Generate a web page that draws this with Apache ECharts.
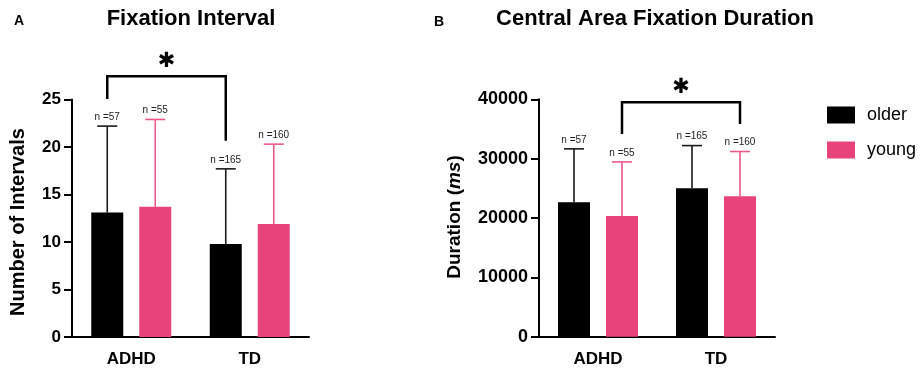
<!DOCTYPE html>
<html>
<head>
<meta charset="utf-8">
<script src="https://cdn.jsdelivr.net/npm/echarts@6/dist/echarts.min.js"></script>
<style>
  html, body { margin: 0; padding: 0; background: #fff; }
  #chart { width: 922px; height: 374px; }
</style>
</head>
<body>
<div id="chart"></div>
<script>
// --- data ---
const categories = ['ADHD', 'TD'];
const groups = ['older', 'young'];

// panel A: fixation interval (mean, mean + SD, n)
const intervalOlder = [13.1, 9.8];
const intervalYoung = [13.7, 11.9];
const intervalOlderErr = [22.2, 17.7];
const intervalYoungErr = [22.9, 20.3];
const intervalOlderN = [57, 165];
const intervalYoungN = [55, 160];

// panel B: central area fixation duration (ms)
const durationOlder = [22650, 25000];
const durationYoung = [20350, 23650];
const durationOlderErr = [31650, 32200];
const durationYoungErr = [29450, 31200];
const durationOlderN = [57, 165];
const durationYoungN = [55, 160];

// significance brackets: [leftCat, leftSide, rightCat, rightSide, leftFoot, top, rightFoot]
const bracketA = [0, -1, 1, -1, 25.05, 27.45, 20.65];
const bracketB = [0, 1, 1, 1, 34150, 39500, 35850];

const yTicksA = { min: 0, max: 25, interval: 5 };
const yTicksB = { min: 0, max: 40000, interval: 10000 };

// --- style ---
const BLACK = '#000000';
const PINK = '#E8437A';
const PINK_ERR = '#EC5A8B';
const FONT = "'Liberation Sans', Arial, Helvetica, sans-serif";
const BAR_W = 32;
const BAR_GAP = 16;
const OFFSET = (BAR_W + BAR_GAP) / 2;

function xAxis(gridIndex) {
  return {
    type: 'category', gridIndex, data: categories,
    axisLine: { lineStyle: { color: BLACK, width: 2 } },
    axisTick: { alignWithLabel: true, length: 8, lineStyle: { color: BLACK, width: 2 } },
    axisLabel: { color: BLACK, fontFamily: FONT, fontWeight: 'bold', fontSize: 17, margin: 14 },
  };
}

function yAxis(gridIndex, ticks, fontSize) {
  return {
    type: 'value', gridIndex, ...ticks,
    splitLine: { show: false },
    axisLine: { show: true, lineStyle: { color: BLACK, width: 2 } },
    axisTick: { show: true, length: 8, lineStyle: { color: BLACK, width: 2 } },
    axisLabel: { color: BLACK, fontFamily: FONT, fontWeight: 'bold', fontSize, margin: 11,
                 formatter: (v) => String(v) },
  };
}

function bars(name, idx, values, color) {
  return {
    name, type: 'bar', xAxisIndex: idx, yAxisIndex: idx, data: values,
    barWidth: BAR_W, barGap: (BAR_GAP / BAR_W * 100) + '%',
    itemStyle: { color }, emphasis: { disabled: true },
  };
}

// upper-only error bar with cap and n label
function errors(idx, side, means, tops, ns, color) {
  return {
    type: 'custom', xAxisIndex: idx, yAxisIndex: idx, clip: false, z: 3,
    data: means.map((m, i) => [i, m, tops[i], ns[i]]),
    renderItem(params, api) {
      const base = api.coord([api.value(0), api.value(1)]);
      const top = api.coord([api.value(0), api.value(2)]);
      const x = base[0] + side * OFFSET;
      const ls = { stroke: color, lineWidth: 1.6 };
      return {
        type: 'group',
        children: [
          { type: 'line', shape: { x1: x, y1: base[1], x2: x, y2: top[1] }, style: ls },
          { type: 'line', shape: { x1: x - 10, y1: top[1], x2: x + 10, y2: top[1] }, style: ls },
          { type: 'text', x: x, y: top[1] - 4,
            style: { text: 'n =' + api.value(3), fill: '#222', font: '10px ' + FONT,
                     textAlign: 'center', textVerticalAlign: 'bottom' } },
        ],
      };
    },
  };
}

function bracket(idx, b) {
  return {
    type: 'custom', xAxisIndex: idx, yAxisIndex: idx, clip: false, z: 4,
    data: [b],
    renderItem(params, api) {
      const l = api.coord([api.value(0), api.value(4)]);
      const t = api.coord([api.value(0), api.value(5)]);
      const r = api.coord([api.value(2), api.value(6)]);
      const xl = l[0] + api.value(1) * OFFSET;
      const xr = r[0] + api.value(3) * OFFSET;
      return {
        type: 'group',
        children: [
          { type: 'polyline',
            shape: { points: [[xl, l[1]], [xl, t[1]], [xr, t[1]], [xr, r[1]]] },
            style: { stroke: BLACK, lineWidth: 2.5, fill: null } },
          { type: 'text', x: (xl + xr) / 2, y: t[1] - 15,
            style: { text: '\u2731', fill: BLACK, font: 'bold 21px DejaVu Sans',
                     textAlign: 'center', textVerticalAlign: 'middle' } },
        ],
      };
    },
  };
}

const chart = echarts.init(document.getElementById('chart'), null, { renderer: 'canvas' });

chart.setOption({
  animation: false,
  backgroundColor: '#fff',
  textStyle: { fontFamily: FONT },
  grid: [
    { left: 72, top: 99.5, width: 237, height: 237.5 },
    { left: 539, top: 99.3, width: 236, height: 237.4 },
  ],
  xAxis: [xAxis(0), xAxis(1)],
  yAxis: [yAxis(0, yTicksA, 17), yAxis(1, yTicksB, 18)],
  legend: {
    data: groups, orient: 'vertical', left: 827, top: 106,
    itemWidth: 28, itemHeight: 17, itemGap: 17, icon: 'rect',
    textStyle: { color: BLACK, fontFamily: FONT, fontSize: 18, padding: [0, 0, 0, 7] },
    selectedMode: false, padding: 0,
  },
  graphic: [
    { type: 'text', left: 14, top: 14, style: { text: 'A', font: 'bold 14px ' + FONT, fill: BLACK } },
    { type: 'text', left: 434, top: 15, style: { text: 'B', font: 'bold 14px ' + FONT, fill: BLACK } },
    { type: 'text', x: 191, y: 19, style: { text: 'Fixation Interval', font: 'bold 22px ' + FONT,
        fill: BLACK, textAlign: 'center', textVerticalAlign: 'middle' } },
    { type: 'text', x: 655, y: 19, style: { text: 'Central Area Fixation Duration', font: 'bold 22px ' + FONT,
        fill: BLACK, textAlign: 'center', textVerticalAlign: 'middle' } },
    { type: 'text', x: 18, y: 222, rotation: Math.PI / 2,
      style: { text: 'Number of Intervals', font: 'bold 20px ' + FONT, fill: BLACK,
               textAlign: 'center', textVerticalAlign: 'middle' } },
    { type: 'text', x: 455, y: 217, rotation: Math.PI / 2,
      style: { text: '{b|Duration (}{i|ms}{b|)}', textAlign: 'center', textVerticalAlign: 'middle',
               rich: { b: { font: 'bold 19px ' + FONT, fill: BLACK },
                       i: { font: 'italic bold 19px ' + FONT, fill: BLACK } } } },
  ],
  series: [
    bars('older', 0, intervalOlder, BLACK),
    bars('young', 0, intervalYoung, PINK),
    bars('older', 1, durationOlder, BLACK),
    bars('young', 1, durationYoung, PINK),
    errors(0, -1, intervalOlder, intervalOlderErr, intervalOlderN, '#1a1a1a'),
    errors(0, 1, intervalYoung, intervalYoungErr, intervalYoungN, PINK_ERR),
    errors(1, -1, durationOlder, durationOlderErr, durationOlderN, '#1a1a1a'),
    errors(1, 1, durationYoung, durationYoungErr, durationYoungN, PINK_ERR),
    bracket(0, bracketA),
    bracket(1, bracketB),
  ],
});
</script>
</body>
</html>
